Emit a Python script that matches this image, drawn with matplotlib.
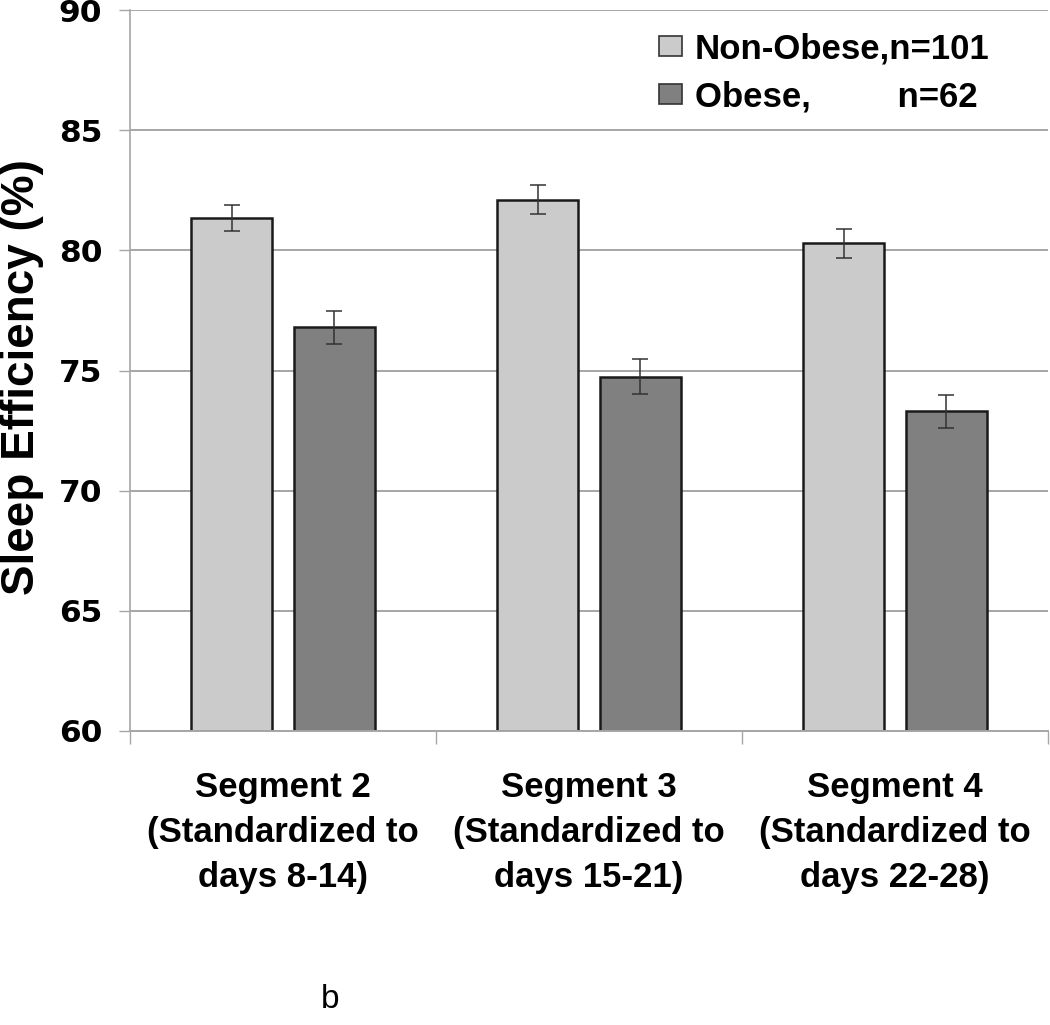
import matplotlib
matplotlib.use("Agg")
import matplotlib.pyplot as plt
from matplotlib.patches import Patch
import numpy as np

categories = ["Segment 2\n(Standardized to\ndays 8-14)",
              "Segment 3\n(Standardized to\ndays 15-21)",
              "Segment 4\n(Standardized to\ndays 22-28)"]
series_names = ["Non-Obese,n=101", "Obese,         n=62"]
non_obese = [81.35, 82.1, 80.3]
non_obese_err = [0.55, 0.6, 0.6]
obese = [76.8, 74.75, 73.3]
obese_err = [0.68, 0.72, 0.68]
y_ticks = [60, 65, 70, 75, 80, 85, 90]

fig = plt.figure(figsize=(10.5, 10.25), dpi=100)
ax = fig.add_axes([130/1050, 294/1025, 918/1050, 721/1025])

x = np.arange(len(categories))
w = 0.265
off = 0.1675
grid_c = "#a6a6a6"
ax.set_axisbelow(True)
ax.yaxis.grid(True, color=grid_c, linewidth=1.4)

ax.bar(x - off, [v - 60 for v in non_obese], bottom=60, width=w, color="#cbcbcb",
       edgecolor="#1a1a1a", linewidth=1.8, zorder=2)
ax.bar(x + off, [v - 60 for v in obese], bottom=60, width=w, color="#808080",
       edgecolor="#1a1a1a", linewidth=1.8, zorder=2)
ax.errorbar(x - off, non_obese, yerr=non_obese_err, fmt="none", ecolor="#333333",
            elinewidth=1.1, capsize=5.5, capthick=1.1, zorder=3)
ax.errorbar(x + off, obese, yerr=obese_err, fmt="none", ecolor="#333333",
            elinewidth=1.1, capsize=5.5, capthick=1.1, zorder=3)

ax.set_ylim(60, 90)
ax.set_xlim(-0.5, 2.5)
ax.set_yticks(y_ticks)
ax.set_yticklabels([str(t) for t in y_ticks], fontfamily="DejaVu Sans",
                   fontweight="bold", fontsize=22.5)
ax.tick_params(axis="y", length=8, width=1, color=grid_c, pad=12)

ax.set_xticks([-0.5, 0.5, 1.5, 2.5])
ax.set_xticklabels([])
ax.tick_params(axis="x", which="major", length=9, width=1, color=grid_c)
ax.set_xticks(x, minor=True)
ax.set_xticklabels(categories, minor=True, fontfamily="Liberation Sans",
                   fontweight="bold", fontsize=25, linespacing=1.46)
ax.tick_params(axis="x", which="minor", length=0, pad=29)

for s in ["top", "right"]:
    ax.spines[s].set_visible(False)
ax.spines["left"].set_color(grid_c)
ax.spines["bottom"].set_color(grid_c)
ax.spines["left"].set_linewidth(1.2)
ax.spines["bottom"].set_linewidth(1.4)

handles = [Patch(facecolor="#cbcbcb", edgecolor="#333333", linewidth=1.2),
           Patch(facecolor="#808080", edgecolor="#333333", linewidth=1.2)]
ax.legend(handles, series_names, loc="upper left",
          bbox_to_anchor=((659 - 130) / 918, (731 - 32) / 721),
          frameon=False, borderpad=0, borderaxespad=0,
          handlelength=0.65, handleheight=0.5, handletextpad=0.38,
          labelspacing=0.45,
          prop={"family": "Liberation Sans", "weight": "bold", "size": 25})

fig.text(22/1050, 1 - 377/1025, "Sleep Efficiency (%)", rotation=90,
         ha="center", va="center", fontfamily="Liberation Sans",
         fontweight="bold", fontsize=33)
fig.text(330/1050, 1 - 1000/1025, "b", ha="center", va="center",
         fontfamily="Liberation Sans", fontsize=24)

fig.savefig("out.png", dpi=100)
